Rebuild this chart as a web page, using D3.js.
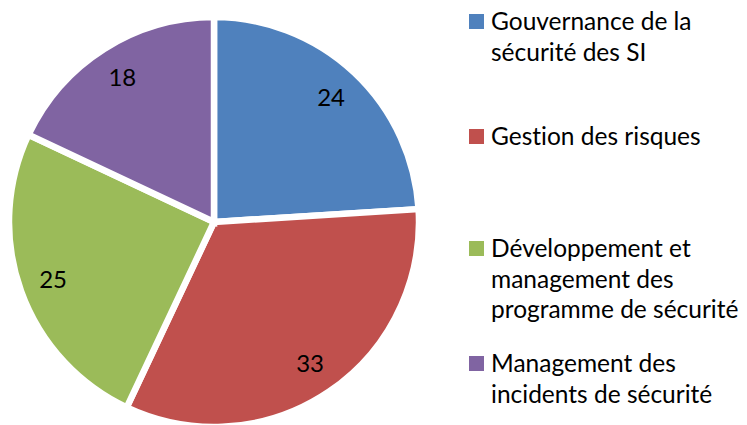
<!DOCTYPE html>
<html>
<head>
<meta charset="utf-8">
<script src="https://cdn.jsdelivr.net/npm/d3@7"></script>
<style>
  html, body { margin: 0; padding: 0; background: #fff; }
  svg { display: block; }
  text { font-family: Lato, "Open Sans", sans-serif; fill: #000; font-variant-ligatures: none; font-feature-settings: "liga" 0, "clig" 0, "dlig" 0; }
</style>
</head>
<body>
<svg id="chart" width="747" height="425"></svg>
<script>
const categories = [
  ["Gouvernance de la", "sécurité des SI"],
  ["Gestion des risques"],
  ["Développement et", "management des", "programme de sécurité"],
  ["Management des", "incidents de sécurité"]
];
const values = [24, 33, 25, 18];
const colors = ["#4F81BD", "#C0504D", "#9BBB59", "#8064A2"];
const legendFirstBaselines = [30, 145, 257, 372];

const svg = d3.select("#chart");
const cx = 214, cy = 222, R = 205, labelR = 171;

const pie = d3.pie().sort(null).value(d => d)(values);
const arc = d3.arc().innerRadius(0).outerRadius(R);
const labelArc = d3.arc().innerRadius(labelR).outerRadius(labelR);

const g = svg.append("g").attr("transform", `translate(${cx},${cy})`);
g.selectAll("path").data(pie).join("path")
  .attr("d", arc)
  .attr("fill", (d, i) => colors[i])
  .attr("stroke", "#fff")
  .attr("stroke-width", 6.5)
  .attr("stroke-linejoin", "miter");

const fontSize = 24.5;
g.selectAll("text.lbl").data(pie).join("text")
  .attr("class", "lbl")
  .attr("transform", d => `translate(${labelArc.centroid(d)})`)
  .attr("text-anchor", "middle")
  .attr("dy", "0.35em")
  .style("font-size", "24px")
  .text(d => d.data);

const lineH = 30.5;
const leg = svg.append("g");
categories.forEach((lines, i) => {
  const y0 = legendFirstBaselines[i];
  leg.append("rect")
    .attr("x", 469).attr("y", y0 - 16)
    .attr("width", 15).attr("height", 15)
    .attr("fill", colors[i]);
  const t = leg.append("text")
    .attr("x", 491).attr("y", y0)
    .style("font-size", fontSize + "px");
  lines.forEach((ln, j) => {
    t.append("tspan").attr("x", 491).attr("y", y0 + j * lineH).text(ln);
  });
});
</script>
</body>
</html>
